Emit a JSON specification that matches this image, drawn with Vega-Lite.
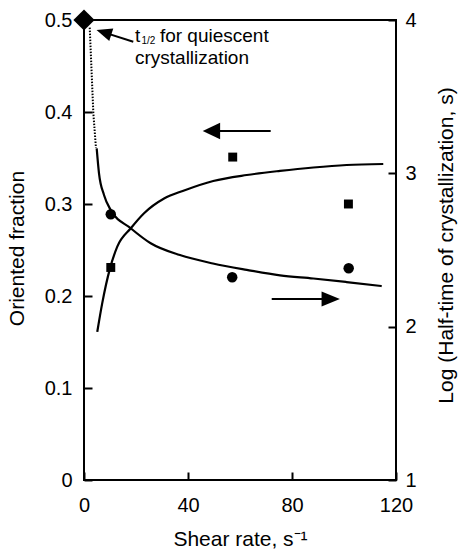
{
  "$schema": "https://vega.github.io/schema/vega-lite/v6.json",
  "width": 312,
  "height": 460,
  "autosize": {"type": "none"},
  "padding": {"left": 84, "top": 20, "right": 64, "bottom": 70},
  "background": "white",
  "config": {
    "font": "Liberation Sans",
    "view": {"stroke": "black", "strokeWidth": 2},
    "axis": {
      "domain": false,
      "grid": false,
      "ticks": true,
      "tickColor": "black",
      "tickOpacity": 1,
      "tickWidth": 2,
      "tickSize": 8,
      "offset": -8,
      "zindex": 1,
      "labelColor": "black",
      "labelFont": "Liberation Sans",
      "labelFontSize": 20,
      "labelFlush": false,
      "labelOverlap": false,
      "titleColor": "black",
      "titleFont": "Liberation Sans",
      "titleFontSize": 21,
      "titleFontWeight": "normal"
    }
  },
  "datasets": {
    "oriented_fit": [
      {"x": 5.1, "y": 0.161}, {"x": 7.0, "y": 0.192}, {"x": 10.0, "y": 0.230},
      {"x": 12.8, "y": 0.2536}, {"x": 18.0, "y": 0.2736}, {"x": 23.1, "y": 0.290},
      {"x": 30.8, "y": 0.306}, {"x": 38.5, "y": 0.3147}, {"x": 49.7, "y": 0.325},
      {"x": 62.6, "y": 0.3315}, {"x": 75.4, "y": 0.336}, {"x": 88.2, "y": 0.3397},
      {"x": 101.0, "y": 0.3424}, {"x": 115.1, "y": 0.3435}
    ],
    "oriented_data": [
      {"x": 10.3, "y": 0.231}, {"x": 57.2, "y": 0.351}, {"x": 101.7, "y": 0.30}
    ],
    "halftime_fit": [
      {"x": 4.88, "y": 3.163}, {"x": 5.77, "y": 3.0}, {"x": 7.69, "y": 2.859},
      {"x": 10.27, "y": 2.761}, {"x": 17.96, "y": 2.642}, {"x": 25.65, "y": 2.544},
      {"x": 36.9, "y": 2.467}, {"x": 49.6, "y": 2.412}, {"x": 62.6, "y": 2.37},
      {"x": 75.4, "y": 2.334}, {"x": 88.2, "y": 2.314}, {"x": 101.0, "y": 2.291},
      {"x": 114.5, "y": 2.265}
    ],
    "halftime_extrapolated": [
      {"x": 2.2, "y": 3.95}, {"x": 3.6, "y": 3.39}, {"x": 4.6, "y": 3.165}
    ],
    "halftime_data": [
      {"x": 10.3, "y": 2.733}, {"x": 57.0, "y": 2.322}, {"x": 101.8, "y": 2.381}
    ],
    "quiescent": [
      {"x": 0, "y": 4}
    ],
    "arrow_lines": [
      {"x": 71.8, "x2": 49.0, "y": 0.3793, "y2": 0.3793},
      {"x": 72.2, "x2": 94.9, "y": 0.1967, "y2": 0.1967},
      {"x": 18.96, "x2": 7.65, "y": 0.4764, "y2": 0.4866}
    ],
    "arrow_heads": [
      {"x": 49.0, "y": 0.3793, "dir": "left"},
      {"x": 94.9, "y": 0.1967, "dir": "right"},
      {"x": 7.65, "y": 0.4866, "dir": "note"}
    ],
    "labels": [
      {"x": 19.6, "y": 0.4764, "text": "t", "kind": "main"},
      {"x": 22.1, "y": 0.4736, "text": "1/2", "kind": "sub"},
      {"x": 29.2, "y": 0.4764, "text": "for quiescent", "kind": "main"},
      {"x": 19.6, "y": 0.4520, "text": "crystallization", "kind": "main"}
    ]
  },
  "layer": [
    {
      "encoding": {
        "x": {
          "field": "x", "type": "quantitative",
          "scale": {"domain": [0, 120], "nice": false, "zero": false},
          "axis": {
            "values": [0, 40, 80, 120],
            "labelPadding": 15,
            "title": "Shear rate, s⁻¹",
            "titleX": 156, "titleY": 73,
            "titleAlign": "center", "titleBaseline": "alphabetic"
          }
        },
        "y": {
          "field": "y", "type": "quantitative",
          "scale": {"domain": [0, 0.5], "nice": false, "zero": false},
          "axis": {
            "orient": "left",
            "values": [0, 0.1, 0.2, 0.3, 0.4, 0.5],
            "labelExpr": "datum.value == 0 ? '0' : format(datum.value, '.1f')",
            "labelPadding": 12,
            "title": "Oriented fraction",
            "titleAngle": -90,
            "titleX": -75, "titleY": 228,
            "titleAlign": "center", "titleBaseline": "middle"
          }
        }
      },
      "layer": [
        {
          "data": {"name": "oriented_fit"},
          "mark": {"type": "line", "color": "black", "strokeWidth": 2.2, "interpolate": "monotone"}
        },
        {
          "data": {"name": "oriented_data"},
          "mark": {"type": "point", "shape": "square", "filled": true, "color": "black", "opacity": 1, "size": 80}
        },
        {
          "data": {"name": "arrow_lines"},
          "mark": {"type": "rule", "color": "black", "strokeWidth": 2},
          "encoding": {
            "x2": {"field": "x2"},
            "y2": {"field": "y2"}
          }
        },
        {
          "data": {"name": "arrow_heads"},
          "transform": [{"filter": "datum.dir == 'left'"}],
          "mark": {"type": "point", "shape": "M -1 0 L 1 -0.95 L 1 0.95 Z", "filled": true, "color": "black", "opacity": 1, "size": 303, "strokeWidth": 0}
        },
        {
          "data": {"name": "arrow_heads"},
          "transform": [{"filter": "datum.dir == 'right'"}],
          "mark": {"type": "point", "shape": "M 1 0 L -1 -0.82 L -1 0.82 Z", "filled": true, "color": "black", "opacity": 1, "size": 335, "strokeWidth": 0}
        },
        {
          "data": {"name": "arrow_heads"},
          "transform": [{"filter": "datum.dir == 'note'"}],
          "mark": {"type": "point", "shape": "M -1 0 L 1 -0.85 L 1 0.85 Z", "filled": true, "color": "black", "opacity": 1, "size": 240, "strokeWidth": 0, "angle": 17.7}
        },
        {
          "data": {"name": "labels"},
          "transform": [{"filter": "datum.kind == 'main'"}],
          "mark": {"type": "text", "align": "left", "baseline": "alphabetic", "fontSize": 19, "color": "black", "font": "Liberation Sans"},
          "encoding": {"text": {"field": "text"}}
        },
        {
          "data": {"name": "labels"},
          "transform": [{"filter": "datum.kind == 'sub'"}],
          "mark": {"type": "text", "align": "left", "baseline": "alphabetic", "fontSize": 10, "color": "black", "font": "Liberation Sans"},
          "encoding": {"text": {"field": "text"}}
        }
      ]
    },
    {
      "encoding": {
        "x": {"field": "x", "type": "quantitative", "scale": {"domain": [0, 120], "nice": false, "zero": false}},
        "y": {
          "field": "y", "type": "quantitative",
          "scale": {"domain": [1, 4], "nice": false, "zero": false},
          "axis": {
            "orient": "right",
            "values": [1, 2, 3, 4],
            "labelPadding": 9,
            "title": "Log (Half-time of crystallization, s)",
            "titleAngle": -90,
            "titleX": 58, "titleY": 225,
            "titleAlign": "center", "titleBaseline": "middle"
          }
        }
      },
      "layer": [
        {
          "data": {"name": "halftime_extrapolated"},
          "mark": {"type": "line", "color": "black", "strokeWidth": 2, "strokeDash": [1.5, 1.5]}
        },
        {
          "data": {"name": "halftime_fit"},
          "mark": {"type": "line", "color": "black", "strokeWidth": 2.2, "interpolate": "monotone"}
        },
        {
          "data": {"name": "halftime_data"},
          "mark": {"type": "point", "shape": "circle", "filled": true, "color": "black", "opacity": 1, "size": 110}
        },
        {
          "data": {"name": "quiescent"},
          "mark": {"type": "point", "shape": "diamond", "filled": true, "color": "black", "opacity": 1, "size": 450}
        }
      ]
    }
  ],
  "resolve": {"scale": {"y": "independent"}, "axis": {"y": "independent"}}
}
